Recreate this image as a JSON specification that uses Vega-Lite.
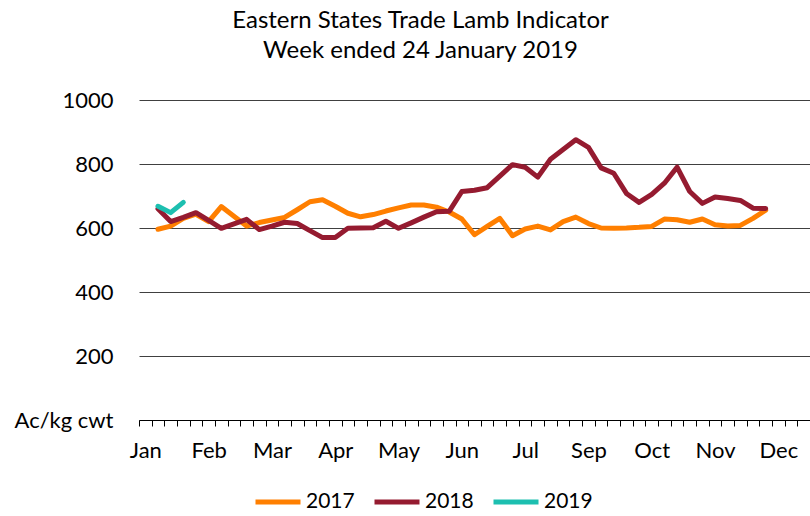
{
  "$schema": "https://vega.github.io/schema/vega-lite/v6.json",
  "width": 671,
  "height": 320,
  "autosize": "none",
  "padding": {"left": 139, "top": 100, "right": 0, "bottom": 96},
  "background": "white",
  "config": {"view": {"stroke": null}},
  "title": {
    "text": ["Eastern States Trade Lamb Indicator", "Week ended 24 January 2019"],
    "font": "Lato", "fontSize": 24, "fontWeight": "normal", "color": "black",
    "lineHeight": 30, "anchor": "middle", "frame": "group", "dx": -54,
    "baseline": "bottom", "offset": 2
  },
  "data": {"values": [
    {"year": "2017", "week": 1, "value": 596},
    {"year": "2017", "week": 2, "value": 606},
    {"year": "2017", "week": 3, "value": 630},
    {"year": "2017", "week": 4, "value": 643},
    {"year": "2017", "week": 5, "value": 620},
    {"year": "2017", "week": 6, "value": 667},
    {"year": "2017", "week": 7, "value": 637},
    {"year": "2017", "week": 8, "value": 606},
    {"year": "2017", "week": 9, "value": 617},
    {"year": "2017", "week": 10, "value": 625},
    {"year": "2017", "week": 11, "value": 633},
    {"year": "2017", "week": 12, "value": 657},
    {"year": "2017", "week": 13, "value": 682},
    {"year": "2017", "week": 14, "value": 688},
    {"year": "2017", "week": 15, "value": 668},
    {"year": "2017", "week": 16, "value": 646},
    {"year": "2017", "week": 17, "value": 635},
    {"year": "2017", "week": 18, "value": 642},
    {"year": "2017", "week": 19, "value": 653},
    {"year": "2017", "week": 20, "value": 663},
    {"year": "2017", "week": 21, "value": 672},
    {"year": "2017", "week": 22, "value": 672},
    {"year": "2017", "week": 23, "value": 665},
    {"year": "2017", "week": 24, "value": 650},
    {"year": "2017", "week": 25, "value": 628},
    {"year": "2017", "week": 26, "value": 579},
    {"year": "2017", "week": 27, "value": 605},
    {"year": "2017", "week": 28, "value": 630},
    {"year": "2017", "week": 29, "value": 576},
    {"year": "2017", "week": 30, "value": 597},
    {"year": "2017", "week": 31, "value": 606},
    {"year": "2017", "week": 32, "value": 594},
    {"year": "2017", "week": 33, "value": 620},
    {"year": "2017", "week": 34, "value": 634},
    {"year": "2017", "week": 35, "value": 614},
    {"year": "2017", "week": 36, "value": 600},
    {"year": "2017", "week": 37, "value": 599},
    {"year": "2017", "week": 38, "value": 600},
    {"year": "2017", "week": 39, "value": 602},
    {"year": "2017", "week": 40, "value": 605},
    {"year": "2017", "week": 41, "value": 628},
    {"year": "2017", "week": 42, "value": 626},
    {"year": "2017", "week": 43, "value": 618},
    {"year": "2017", "week": 44, "value": 628},
    {"year": "2017", "week": 45, "value": 610},
    {"year": "2017", "week": 46, "value": 606},
    {"year": "2017", "week": 47, "value": 608},
    {"year": "2017", "week": 48, "value": 630},
    {"year": "2017", "week": 49, "value": 656},
    {"year": "2018", "week": 1, "value": 660},
    {"year": "2018", "week": 2, "value": 620},
    {"year": "2018", "week": 3, "value": 633},
    {"year": "2018", "week": 4, "value": 648},
    {"year": "2018", "week": 5, "value": 624},
    {"year": "2018", "week": 6, "value": 599},
    {"year": "2018", "week": 7, "value": 613},
    {"year": "2018", "week": 8, "value": 627},
    {"year": "2018", "week": 9, "value": 595},
    {"year": "2018", "week": 10, "value": 606},
    {"year": "2018", "week": 11, "value": 618},
    {"year": "2018", "week": 12, "value": 614},
    {"year": "2018", "week": 13, "value": 592},
    {"year": "2018", "week": 14, "value": 570},
    {"year": "2018", "week": 15, "value": 570},
    {"year": "2018", "week": 16, "value": 599},
    {"year": "2018", "week": 17, "value": 600},
    {"year": "2018", "week": 18, "value": 601},
    {"year": "2018", "week": 19, "value": 621},
    {"year": "2018", "week": 20, "value": 599},
    {"year": "2018", "week": 21, "value": 616},
    {"year": "2018", "week": 22, "value": 634},
    {"year": "2018", "week": 23, "value": 651},
    {"year": "2018", "week": 24, "value": 652},
    {"year": "2018", "week": 25, "value": 714},
    {"year": "2018", "week": 26, "value": 718},
    {"year": "2018", "week": 27, "value": 726},
    {"year": "2018", "week": 28, "value": 762},
    {"year": "2018", "week": 29, "value": 798},
    {"year": "2018", "week": 30, "value": 790},
    {"year": "2018", "week": 31, "value": 759},
    {"year": "2018", "week": 32, "value": 815},
    {"year": "2018", "week": 33, "value": 845},
    {"year": "2018", "week": 34, "value": 876},
    {"year": "2018", "week": 35, "value": 852},
    {"year": "2018", "week": 36, "value": 788},
    {"year": "2018", "week": 37, "value": 771},
    {"year": "2018", "week": 38, "value": 708},
    {"year": "2018", "week": 39, "value": 680},
    {"year": "2018", "week": 40, "value": 705},
    {"year": "2018", "week": 41, "value": 740},
    {"year": "2018", "week": 42, "value": 790},
    {"year": "2018", "week": 43, "value": 714},
    {"year": "2018", "week": 44, "value": 677},
    {"year": "2018", "week": 45, "value": 697},
    {"year": "2018", "week": 46, "value": 692},
    {"year": "2018", "week": 47, "value": 686},
    {"year": "2018", "week": 48, "value": 662},
    {"year": "2018", "week": 49, "value": 661},
    {"year": "2019", "week": 1, "value": 668},
    {"year": "2019", "week": 2, "value": 648},
    {"year": "2019", "week": 3, "value": 680}
  ]},
  "mark": {"type": "line", "strokeWidth": 5, "strokeCap": "round", "strokeJoin": "round"},
  "encoding": {
    "x": {
      "field": "week", "type": "quantitative",
      "scale": {"domain": [-0.5, 52.5], "nice": false, "zero": false},
      "axis": {
        "title": null, "grid": false,
        "values": [-0.5, 0.5, 1.5, 2.5, 3.5, 4.5, 5.5, 6.5, 7.5, 8.5, 9.5, 10.5, 11.5, 12.5, 13.5, 14.5, 15.5, 16.5, 17.5, 18.5, 19.5, 20.5, 21.5, 22.5, 23.5, 24.5, 25.5, 26.5, 27.5, 28.5, 29.5, 30.5, 31.5, 32.5, 33.5, 34.5, 35.5, 36.5, 37.5, 38.5, 39.5, 40.5, 41.5, 42.5, 43.5, 44.5, 45.5, 46.5, 47.5, 48.5, 49.5, 50.5, 51.5, 52.5, 0, 5, 10, 15, 20, 25, 30, 35, 40, 45, 50],
        "domainColor": "black", "domainWidth": 1,
        "tickColor": "black", "tickSize": 6, "tickWidth": 1,
        "tickOpacity": {"condition": {"test": "datum.value % 1 == 0", "value": 0}, "value": 1},
        "labelExpr": "datum.value % 1 != 0 ? '' : ['Jan','Feb','Mar','Apr','May','Jun','Jul','Sep','Oct','Nov','Dec'][datum.value / 5]",
        "labelOverlap": false, "labelBound": false, "labelFlush": false,
        "labelPadding": 14, "labelFont": "Lato", "labelFontSize": 22, "labelColor": "black"
      }
    },
    "y": {
      "field": "value", "type": "quantitative",
      "scale": {"domain": [0, 1000], "nice": false},
      "axis": {
        "title": null, "values": [0, 200, 400, 600, 800, 1000], "format": "d",
        "domain": false, "ticks": false, "tickSize": 0, "labelPadding": 26,
        "gridColor": "#404040", "gridWidth": 1, "gridOpacity": 1,
        "labelFont": "Lato", "labelFontSize": 22, "labelColor": "black",
        "labelExpr": "datum.value == 0 ? 'Ac/kg cwt' : datum.label"
      }
    },
    "color": {
      "field": "year", "type": "nominal",
      "scale": {"domain": ["2017", "2018", "2019"], "range": ["#FF7F00", "#951B30", "#1DBFB0"]},
      "legend": {
        "orient": "none", "legendX": 114, "legendY": 377, "direction": "horizontal",
        "title": null, "symbolType": "stroke", "symbolSize": 2025, "symbolStrokeWidth": 5,
        "labelFont": "Lato", "labelFontSize": 21, "labelColor": "black",
        "labelOffset": 3, "columnPadding": 9, "padding": 0
      }
    }
  }
}
